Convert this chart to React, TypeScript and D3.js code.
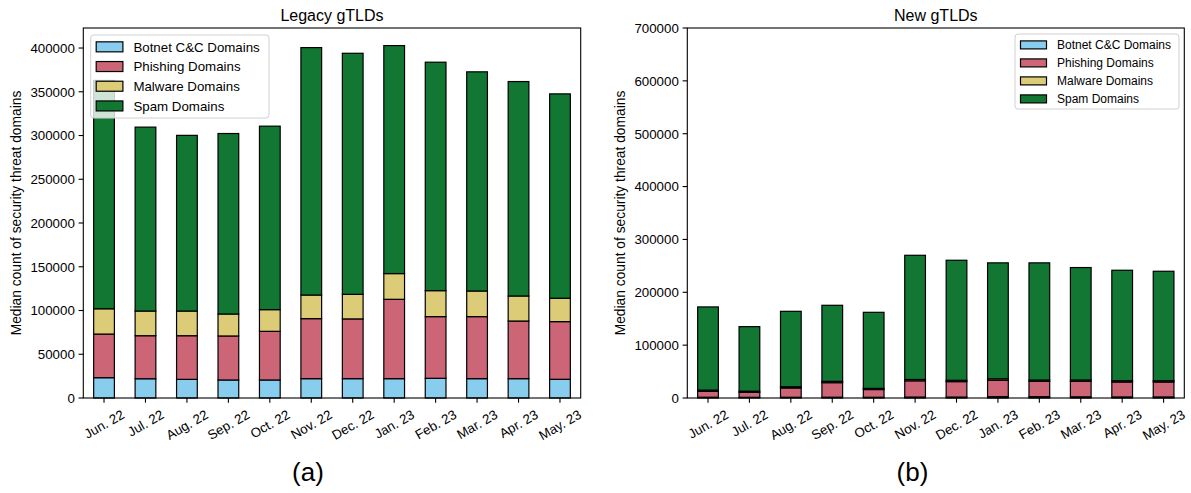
import React, { useEffect, useMemo } from 'react';
import * as d3 from 'd3';

// months on the x axis
const months = ['Jun. 22', 'Jul. 22', 'Aug. 22', 'Sep. 22', 'Oct. 22', 'Nov. 22', 'Dec. 22', 'Jan. 23', 'Feb. 23', 'Mar. 23', 'Apr. 23', 'May. 23'];
const seriesNames = ['Botnet C&C Domains', 'Phishing Domains', 'Malware Domains', 'Spam Domains'];
const seriesColors = ['#88CCEE', '#CC6677', '#DDCC77', '#117733'];

// legacy gTLDs (segment values, bottom to top)
const legacyBotnet = [23200, 22000, 21300, 20600, 20600, 22100, 22100, 22100, 22500, 22100, 22100, 21400];
const legacyPhishing = [49900, 49200, 49900, 50300, 55600, 68600, 68300, 90700, 70500, 70900, 65900, 65900];
const legacyMalware = [28900, 28200, 28200, 25100, 24800, 27000, 28100, 29400, 29700, 29300, 28600, 26700];
const legacySpam = [261000, 210200, 200800, 206300, 209700, 282800, 275500, 260600, 261100, 250500, 245100, 233600];

// new gTLDs
const newBotnet = [1500, 1300, 1400, 1500, 1400, 1800, 1800, 2500, 2500, 2200, 2000, 2000];
const newPhishing = [11000, 9300, 17600, 27500, 14600, 30700, 29200, 31000, 29000, 29300, 28300, 28300];
const newMalware = [2500, 2300, 2300, 2500, 2200, 2500, 2500, 2800, 2500, 2600, 2400, 2400];
const newSpam = [157300, 122100, 142700, 143900, 143900, 235000, 227100, 219400, 221700, 212700, 209000, 207100];

const legacyTicks = [0, 50000, 100000, 150000, 200000, 250000, 300000, 350000, 400000];
const newTicks = [0, 100000, 200000, 300000, 400000, 500000, 600000, 700000];

const FONT = 'Arial, "Liberation Sans", Helvetica, sans-serif';
const FS = 13.3;

type PanelProps = {
  x0: number;
  x1: number;
  yMax: number;
  ticks: number[];
  series: number[][];
  title: string;
  letter: string;
  letterX: number;
  legend: { x: number; y: number; w: number; h: number; fs: number; rowH: number; swW: number; swH: number };
};

const measure = (() => {
  let ctx: CanvasRenderingContext2D | null = null;
  return (s: string, fs: number) => {
    if (!ctx) ctx = document.createElement('canvas').getContext('2d');
    if (!ctx) return s.length * fs * 0.5;
    ctx.font = `${fs}px ${FONT}`;
    return ctx.measureText(s).width;
  };
})();

function Panel({ x0, x1, yMax, ticks, series, title, letter, letterX, legend }: PanelProps) {
  const top = 28;
  const bottom = 398;
  const x = d3.scaleBand<string>().domain(months).range([x0, x1]).paddingInner(0.5).paddingOuter(0.25);
  const y = d3.scaleLinear().domain([0, yMax]).range([bottom, top]);

  const stacked = useMemo(() => {
    const rows = months.map((m, i) => {
      const r: Record<string, number | string> = { month: m };
      seriesNames.forEach((s, k) => (r[s] = series[k][i]));
      return r;
    });
    return d3.stack<Record<string, number | string>>().keys(seriesNames).value((d, k) => d[k] as number)(rows);
  }, [series]);

  const cx = (x0 + x1) / 2;
  const rad = Math.PI / 6;
  return (
    <g fontFamily={FONT}>
      {stacked.map((layer, k) => (
        <g key={k} fill={seriesColors[k]} stroke="#000" strokeWidth={1.2}>
          {layer.map((d, i) => (
            <rect key={i} x={x(months[i])} width={x.bandwidth()} y={y(d[1])} height={Math.max(0, y(d[0]) - y(d[1]))} />
          ))}
        </g>
      ))}
      {/* frame */}
      <rect x={x0} y={top} width={x1 - x0} height={bottom - top} fill="none" stroke="#000" strokeWidth={1.1} />
      {/* y ticks */}
      {ticks.map((t) => (
        <g key={t}>
          <line x1={x0 - 4.7} x2={x0} y1={y(t)} y2={y(t)} stroke="#000" strokeWidth={1.1} />
          <text x={x0 - 8.5} y={y(t)} dy="0.36em" textAnchor="end" fontSize={FS} fill="#000">{t}</text>
        </g>
      ))}
      {/* x ticks */}
      {months.map((m) => {
        const px = (x(m) as number) + x.bandwidth() / 2;
        const w = measure(m, FS);
        const h = FS * 1.0;
        const cy = bottom + 9.4 + (w * Math.sin(rad) + h * Math.cos(rad)) / 2;
        return (
          <g key={m}>
            <line x1={px} x2={px} y1={bottom} y2={bottom + 4.7} stroke="#000" strokeWidth={1.1} />
            <text transform={`translate(${px},${cy}) rotate(-30)`} textAnchor="middle" dy="0.36em" fontSize={FS} fill="#000">{m}</text>
          </g>
        );
      })}
      <text x={cx} y={21} textAnchor="middle" fontSize={16} fill="#000">{title}</text>
      <text transform={`translate(${x0 - 67.5},${(top + bottom) / 2}) rotate(-90)`} textAnchor="middle" dy="0.36em" fontSize={13.8} fill="#000">
        Median count of security threat domains
      </text>
      <text x={letterX} y={481} textAnchor="middle" fontSize={26} fill="#000">{letter}</text>
      {/* legend */}
      <g>
        <rect x={legend.x} y={legend.y} width={legend.w} height={legend.h} rx={3} fill="#fff" fillOpacity={0.8} stroke="#d0d0d0" strokeWidth={1} />
        {seriesNames.map((s, k) => {
          const ry = legend.y + legend.rowH * 0.55 + k * legend.rowH + 1;
          return (
            <g key={s}>
              <rect x={legend.x + 5.5} y={ry - legend.swH / 2} width={legend.swW} height={legend.swH} fill={seriesColors[k]} stroke="#000" strokeWidth={1.2} />
              <text x={legend.x + legend.swW + 16} y={ry} dy="0.36em" fontSize={legend.fs} fill="#000">{s}</text>
            </g>
          );
        })}
      </g>
    </g>
  );
}

export default function App() {
  useEffect(() => {
    document.body.style.margin = '0';
  }, []);
  return (
    <svg width={1191} height={493} viewBox="0 0 1191 493" style={{ display: 'block', background: '#fff' }}>
      <Panel
        x0={83.3}
        x1={580.7}
        yMax={422900}
        ticks={legacyTicks}
        series={[legacyBotnet, legacyPhishing, legacyMalware, legacySpam]}
        title="Legacy gTLDs"
        letter="(a)"
        letterX={308}
        legend={{ x: 90.7, y: 35, w: 178.3, h: 83, fs: 13.3, rowH: 19.7, swW: 26.7, swH: 10 }}
      />
      <Panel
        x0={687.3}
        x1={1184.3}
        yMax={700000}
        ticks={newTicks}
        series={[newBotnet, newPhishing, newMalware, newSpam]}
        title="New gTLDs"
        letter="(b)"
        letterX={912.5}
        legend={{ x: 1015, y: 34, w: 164, h: 75, fs: 12, rowH: 18, swW: 26, swH: 8 }}
      />
    </svg>
  );
}
